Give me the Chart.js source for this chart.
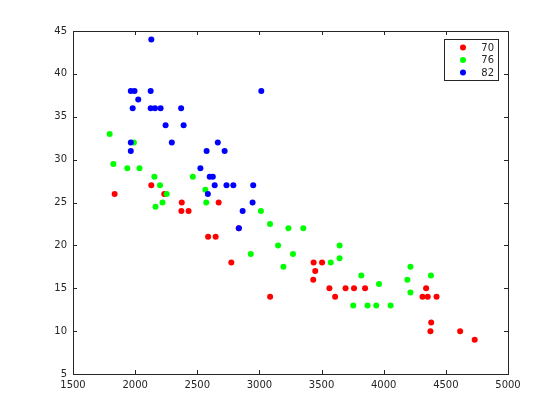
<!DOCTYPE html>
<html>
<head>
<meta charset="utf-8">
<script src="https://cdn.jsdelivr.net/npm/chart.js@4.4.0/dist/chart.umd.min.js"></script>
<style>
  html, body { margin: 0; padding: 0; background: #fff; }
  #wrap { width: 560px; height: 420px; }
</style>
</head>
<body>
<div id="wrap"><canvas id="chart1" width="560" height="420"></canvas></div>
<script>
// Weight vs MPG, model years 70 / 76 / 82
var yearLabels = ['70', '76', '82'];

var weight70 = [3504, 3693, 3436, 3433, 3449, 4341, 4354, 4312, 4425, 3850, 3563, 3609, 3761, 3086, 2372,
                2833, 2774, 2587, 2130, 1835, 2672, 2430, 2375, 2234, 2648, 4615, 4376, 4382, 4732];
var mpg70    = [18, 15, 18, 16, 17, 15, 14, 14, 14, 15, 15, 14, 15, 14, 24,
                22, 18, 21, 27, 26, 25, 24, 25, 26, 21, 10, 10, 11, 9];

var weight76 = [1795, 1990, 1825, 1937, 2035, 2155, 2200, 2464, 2565, 2254, 2164, 2220, 2572, 3012, 3085, 3233, 3150,
                2930, 3270, 3193, 3353, 3645, 3645, 3574, 3820, 3755, 3870, 3940, 4055, 3962, 4215, 4190, 4215, 4380];
var mpg76    = [33, 32, 29.5, 29, 29, 28, 27, 28, 26.5, 26, 24.5, 25, 25, 24, 22.5, 22, 20,
                19, 19, 17.5, 22, 20, 18.5, 18, 16.5, 13, 13, 13, 13, 15.5, 17.5, 16, 14.5, 16.5];

var weight82 = [2130, 1965, 1995, 2125, 3015, 2025, 1980, 2125, 2160, 2205, 2370, 2245, 2390, 1965, 2295,
                2665, 1965, 2575, 2720, 2525, 2600, 2625, 2640, 2735, 2790, 2950, 2585, 2945, 2865, 2835];
var mpg82    = [44, 38, 38, 38, 38, 37, 36, 36, 36, 36, 36, 34, 34, 32, 32,
                32, 31, 31, 31, 29, 28, 28, 27, 27, 27, 27, 26, 25, 24, 22];

var xTicks = [1500, 2000, 2500, 3000, 3500, 4000, 4500, 5000];
var yTicks = [5, 10, 15, 20, 25, 30, 35, 40, 45];

function pts(xs, ys) {
    return xs.map(function (x, i) { return { x: x, y: ys[i] }; });
}

var axisColor = '#262626';
var tickFont = { family: 'DejaVu Sans', size: 10 };

// inward ticks on all four sides + box
var boxTicks = {
    id: 'boxTicks',
    afterDatasetsDraw: function (chart) {
        var ctx = chart.ctx, a = chart.chartArea;
        var sx = chart.scales.x, sy = chart.scales.y;
        ctx.save();
        ctx.strokeStyle = axisColor;
        ctx.lineWidth = 1;
        ctx.strokeRect(Math.round(a.left) + 0.5, Math.round(a.top) + 0.5,
                       Math.round(a.right - a.left), Math.round(a.bottom - a.top));
        ctx.beginPath();
        xTicks.forEach(function (v) {
            var px = Math.round(sx.getPixelForValue(v)) + 0.5;
            ctx.moveTo(px, a.bottom); ctx.lineTo(px, a.bottom - 4);
            ctx.moveTo(px, a.top); ctx.lineTo(px, a.top + 4);
        });
        yTicks.forEach(function (v) {
            var py = Math.round(sy.getPixelForValue(v)) + 0.5;
            ctx.moveTo(a.left, py); ctx.lineTo(a.left + 4, py);
            ctx.moveTo(a.right, py); ctx.lineTo(a.right - 4, py);
        });
        ctx.stroke();
        ctx.restore();
    }
};

// boxed legend in the top right corner
var boxLegend = {
    id: 'boxLegend',
    afterDraw: function (chart) {
        var ctx = chart.ctx;
        var x0 = 444, y0 = 39, w = 54, h = 41;
        ctx.save();
        ctx.fillStyle = '#fff';
        ctx.fillRect(x0, y0, w, h);
        ctx.strokeStyle = axisColor;
        ctx.lineWidth = 1;
        ctx.strokeRect(x0 + 0.5, y0 + 0.5, w, h);
        ctx.font = '10px "DejaVu Sans"';
        ctx.textAlign = 'right';
        ctx.textBaseline = 'middle';
        chart.data.datasets.forEach(function (ds, i) {
            var cy = y0 + 8.5 + i * 12.5;
            ctx.fillStyle = ds.backgroundColor;
            ctx.beginPath();
            ctx.arc(x0 + 19, cy, 3, 0, Math.PI * 2);
            ctx.fill();
            ctx.fillStyle = axisColor;
            ctx.fillText(ds.label, x0 + 50, cy + 0.5);
        });
        ctx.restore();
    }
};

var plainNum = function (v) { return String(v); };

var ctx1 = document.getElementById('chart1').getContext('2d');
var chart1 = new Chart(ctx1, {
    type: 'scatter',
    data: {
        datasets: [{
            label: yearLabels[0],
            data: pts(weight70, mpg70),
            backgroundColor: '#ff0000',
            order: 3
        }, {
            label: yearLabels[1],
            data: pts(weight76, mpg76),
            backgroundColor: '#00ff00',
            order: 2
        }, {
            label: yearLabels[2],
            data: pts(weight82, mpg82),
            backgroundColor: '#0000ff',
            order: 1
        }]
    },
    options: {
        responsive: false,
        animation: false,
        events: [],
        elements: { point: { radius: 3, borderWidth: 0, hoverRadius: 3 } },
        layout: { padding: { left: 0, top: 31, right: 52, bottom: 0 } },
        plugins: { legend: { display: false }, tooltip: { enabled: false } },
        scales: {
            x: {
                type: 'linear',
                min: 1500, max: 5000,
                afterBuildTicks: function (s) { s.ticks = xTicks.map(function (v) { return { value: v }; }); },
                afterFit: function (s) { s.height = 46; },
                grid: { display: false, drawTicks: false },
                border: { display: false },
                ticks: { color: axisColor, font: tickFont, padding: 5, maxRotation: 0, callback: plainNum }
            },
            y: {
                type: 'linear',
                min: 5, max: 45,
                afterBuildTicks: function (s) { s.ticks = yTicks.map(function (v) { return { value: v }; }); },
                afterFit: function (s) { s.width = 73; },
                grid: { display: false, drawTicks: false },
                border: { display: false },
                ticks: { color: axisColor, font: tickFont, padding: 6, callback: plainNum }
            }
        }
    },
    plugins: [boxTicks, boxLegend]
});
</script>
</body>
</html>
